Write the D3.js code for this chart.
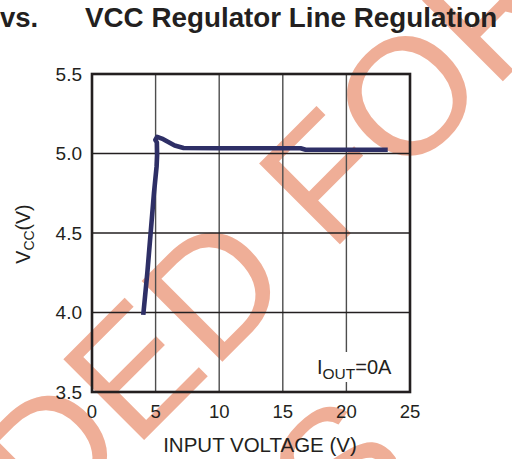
<!DOCTYPE html>
<html>
<head>
<meta charset="utf-8">
<script src="https://cdn.jsdelivr.net/npm/d3@7"></script>
<style>
  body { margin: 0; background: #fff; }
  svg { display: block; font-family: "Liberation Sans", Arial, sans-serif; }
</style>
</head>
<body>
<script>
// data
var vin = [4.03, 4.35, 4.87, 5.08, 5.12, 5.1, 4.98, 5.12, 5.6, 6.5, 7.2, 10, 16.4, 16.8, 23.25]
var vcc = [3.985, 4.25, 4.75, 4.92, 4.99, 5.07, 5.085, 5.105, 5.09, 5.05, 5.035, 5.033, 5.033, 5.024, 5.024]
var xTicks = [0, 5, 10, 15, 20, 25]
var yTicks = [3.5, 4.0, 4.5, 5.0, 5.5]

var width = 512
var height = 459
var margin = {top: 74, right: 102, bottom: 67, left: 92}

var ink = '#231f20'
var navy = '#2e2f66'
var salmon = '#efae97'

var svg = d3.select('body')
	.append('svg')
		.attr('width', width)
		.attr('height', height)

var x = d3.scaleLinear()
	.domain([0, 25])
	.range([margin.left, width - margin.right])

var y = d3.scaleLinear()
	.domain([3.5, 5.5])
	.range([height - margin.bottom, margin.top])

// watermark sits under everything
var wm = svg.append('g')
	.attr('fill', salmon)
	.style('font-size', '166px')

wm.append('text')
	.attr('transform', 'translate(578,6) rotate(-45)')
	.attr('text-anchor', 'end')
	.text('NOT RECOMMENDED FOR')

wm.append('text')
	.attr('transform', 'translate(418,468) rotate(-45)')
	.attr('text-anchor', 'end')
	.text('NEW DESIGNS')

// title (cut off on the left like the source)
svg.append('text')
	.attr('x', 0)
	.attr('y', 27)
	.attr('fill', ink)
	.style('font-size', '27.5px')
	.style('font-weight', 'bold')
	.text('vs.')

svg.append('text')
	.attr('x', 85)
	.attr('y', 27)
	.attr('fill', ink)
	.style('font-size', '27.8px')
	.style('font-weight', 'bold')
	.text('VCC Regulator Line Regulation')

// grid
svg.append('g')
	.selectAll('line')
	.data(xTicks.slice(1, -1))
	.enter().append('line')
		.attr('x1', function(d) { return x(d) })
		.attr('x2', function(d) { return x(d) })
		.attr('y1', y(3.5))
		.attr('y2', y(5.5))
		.attr('stroke', '#4d4d4d')
		.attr('stroke-width', 1.4)

svg.append('g')
	.selectAll('line')
	.data(yTicks.slice(1, -1))
	.enter().append('line')
		.attr('x1', x(0))
		.attr('x2', x(25))
		.attr('y1', function(d) { return y(d) })
		.attr('y2', function(d) { return y(d) })
		.attr('stroke', ink)
		.attr('stroke-width', 1.4)

// condition label with white box behind it
svg.append('rect')
	.attr('x', 313)
	.attr('y', 352)
	.attr('width', 87)
	.attr('height', 30)
	.attr('fill', '#fff')

var cond = svg.append('text')
	.attr('x', 317)
	.attr('y', 374.3)
	.attr('fill', ink)
	.style('font-size', '20px')
cond.append('tspan').text('I')
cond.append('tspan').attr('dy', 5).style('font-size', '15.5px').text('OUT')
cond.append('tspan').attr('dy', -5).text('=0A')

// curve
var line = d3.line()
	.x(function(d) { return x(d[0]) })
	.y(function(d) { return y(d[1]) })

svg.append('path')
	.datum(d3.zip(vin, vcc))
	.attr('d', line)
	.attr('fill', 'none')
	.attr('stroke', navy)
	.attr('stroke-width', 4.6)
	.attr('stroke-linejoin', 'round')

// frame
svg.append('rect')
	.attr('x', x(0))
	.attr('y', y(5.5))
	.attr('width', x(25) - x(0))
	.attr('height', y(3.5) - y(5.5))
	.attr('fill', 'none')
	.attr('stroke', ink)
	.attr('stroke-width', 2.6)

// tick labels
svg.append('g')
	.selectAll('text')
	.data(yTicks)
	.enter().append('text')
		.attr('x', 82)
		.attr('y', function(d) { return y(d) })
		.attr('dy', '0.36em')
		.attr('text-anchor', 'end')
		.attr('fill', ink)
		.style('font-size', '19px')
		.text(function(d) { return d.toFixed(1) })

svg.append('g')
	.selectAll('text')
	.data(xTicks)
	.enter().append('text')
		.attr('x', function(d) { return x(d) })
		.attr('y', 417.5)
		.attr('text-anchor', 'middle')
		.attr('fill', ink)
		.style('font-size', '18.5px')
		.text(function(d) { return d })

// axis titles
svg.append('text')
	.attr('x', 260)
	.attr('y', 451.5)
	.attr('text-anchor', 'middle')
	.attr('fill', ink)
	.style('font-size', '20.5px')
	.text('INPUT VOLTAGE (V)')

var yt = svg.append('text')
	.attr('transform', 'translate(30,234) rotate(-90)')
	.attr('text-anchor', 'middle')
	.attr('fill', ink)
	.style('font-size', '19.5px')
yt.append('tspan').text('V')
yt.append('tspan').attr('dy', 4).style('font-size', '14px').text('CC')
yt.append('tspan').attr('dy', -4).text('(V)')
</script>
</body>
</html>
